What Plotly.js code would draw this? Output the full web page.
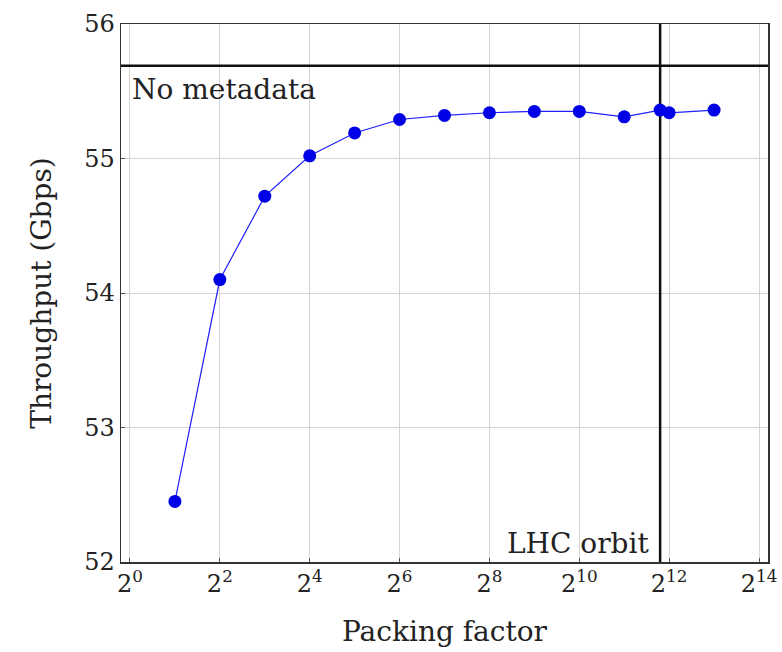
<!DOCTYPE html>
<html><head><meta charset="utf-8">
<script src="https://cdn.plot.ly/plotly-3.0.1.min.js"></script>
<style>body{margin:0;background:#fff}#c{width:782px;height:652px}</style>
</head><body><div id="c"></div>
<script>
// Data
const packingFactor = [2, 4, 8, 16, 32, 64, 128, 256, 512, 1024, 2048, 3564, 4096, 8192];
const throughput = [52.45, 54.10, 54.72, 55.02, 55.19, 55.29, 55.32, 55.34, 55.35, 55.35, 55.31, 55.36, 55.34, 55.36];
const noMetadata = 55.69;
const lhcOrbit = 3564;
const tickExps = [0, 2, 4, 6, 8, 10, 12, 14];
const tickVals = tickExps.map(e => Math.pow(2, e));
const tickText = tickExps.map(e => '2<sup>' + e + '</sup>');
const yTicks = [52, 53, 54, 55, 56];

const font = "'DejaVu Serif', 'Liberation Serif', serif";
const fs = 24;
const fsBig = 28;
const tc = '#222';
const L2 = Math.log10(2);

const traces = [
  {x: [lhcOrbit, lhcOrbit], y: [52, 56], mode: 'lines', line: {color: '#111', width: 2.5}, hoverinfo: 'skip', showlegend: false},
  {x: packingFactor, y: throughput, mode: 'lines+markers',
   line: {color: '#2020ff', width: 1.2},
   marker: {color: '#0000e6', size: 13}, showlegend: false}
];

const layout = {
  width: 782, height: 652,
  margin: {l: 121, r: 14, t: 24, b: 90},
  paper_bgcolor: '#fff', plot_bgcolor: '#fff',
  font: {family: font, size: fs, color: tc},
  xaxis: {
    type: 'log', range: [-0.2 * L2, 14.2 * L2], automargin: false,
    tickvals: tickVals, ticktext: tickText,
    showgrid: true, gridcolor: '#d4d4d4', gridwidth: 1,
    showline: true, linecolor: '#333', linewidth: 1.5, mirror: true,
    ticks: 'inside', ticklen: 4, tickcolor: '#555',
    zeroline: false,
    tickfont: {family: font, size: fs, color: tc},
    title: {text: 'Packing factor', font: {family: font, size: fsBig, color: tc}, standoff: 24}
  },
  yaxis: {
    range: [52, 56], tickvals: yTicks, automargin: false,
    showgrid: true, gridcolor: '#d4d4d4', gridwidth: 1,
    showline: true, linecolor: '#333', linewidth: 1.5, mirror: true,
    ticks: 'inside', ticklen: 4, tickcolor: '#555',
    zeroline: false,
    tickfont: {family: font, size: fs, color: tc},
    title: {text: 'Throughput (Gbps)', font: {family: font, size: fsBig, color: tc}, standoff: 24}
  },
  shapes: [
    {type: 'line', xref: 'paper', x0: 0, x1: 1, yref: 'y', y0: noMetadata, y1: noMetadata,
     line: {color: '#111', width: 2.5}}
  ],
  annotations: [
    {xref: 'paper', x: 0, xanchor: 'left', xshift: 9, yref: 'y', y: noMetadata, yanchor: 'top', yshift: -5,
     text: 'No metadata', showarrow: false, font: {family: font, size: fsBig, color: tc}},
    {xref: 'x', x: Math.log10(lhcOrbit), xanchor: 'right', xshift: -9, yref: 'y', y: 52, yanchor: 'bottom', yshift: 0,
     text: 'LHC orbit', showarrow: false, font: {family: font, size: fsBig, color: tc}}
  ]
};

Plotly.newPlot('c', traces, layout, {displayModeBar: false, staticPlot: true});
</script></body></html>
